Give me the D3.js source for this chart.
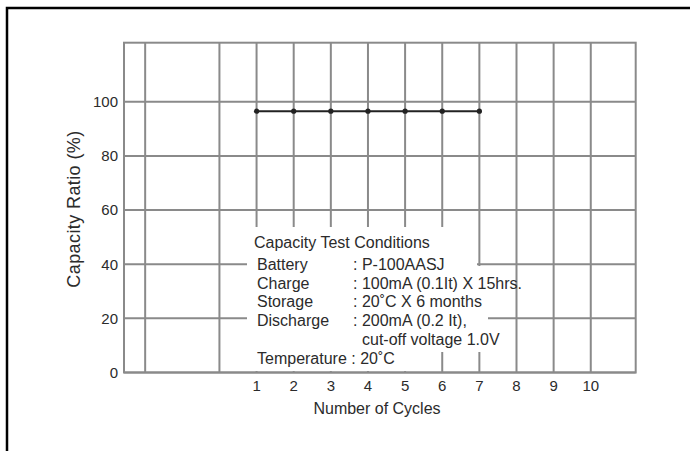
<!DOCTYPE html>
<html>
<head>
<meta charset="utf-8">
<script src="https://cdn.jsdelivr.net/npm/d3@7"></script>
<style>
  body { margin: 0; background: #fff; }
  text { font-family: "Liberation Sans", Arial, sans-serif; fill: #2b2b2b; }
</style>
</head>
<body>
<svg></svg>
<script>
// size of the page
var width = 690;
var height = 451;

// data
const cycles = [1, 2, 3, 4, 5, 6, 7];
const capacity = [96.5, 96.5, 96.5, 96.5, 96.5, 96.5, 96.5];

// grid / tick values
const xGrid = [-2, 0, 1, 2, 3, 4, 5, 6, 7, 8, 9, 10];
const xTickLabels = [1, 2, 3, 4, 5, 6, 7, 8, 9, 10];
const yTicks = [0, 20, 40, 60, 80, 100];

// conditions box text
const condTitle = "Capacity Test Conditions";
const condLabels = ["Battery", "Charge", "Storage", "Discharge"];
const condValues = [": P-100AASJ", ": 100mA (0.1It) X 15hrs.", ": 20˚C  X 6 months", ": 200mA (0.2 It),"];
const condExtra = "cut-off voltage 1.0V";
const condTemp = "Temperature : 20˚C";

var svg = d3.select("svg").attr("width", width).attr("height", height);

// outer frame (only top and left edges show)
svg.append("rect")
    .attr("x", 7).attr("y", 8)
    .attr("width", 720).attr("height", 500)
    .attr("fill", "none")
    .attr("stroke", "#000")
    .attr("stroke-width", 2.5);

// scales
let xScale = d3.scaleLinear().domain([-2.57, 11.21]).range([124, 635.7]);
let yScale = d3.scaleLinear().domain([0, 121.8]).range([372.5, 42.7]);

const gridColor = "#8a8a8a";

//Vertical grid lines
svg.append("g").selectAll("line").data(xGrid).enter()
    .append("line")
    .attr("x1", d => xScale(d)).attr("x2", d => xScale(d))
    .attr("y1", yScale.range()[1]).attr("y2", yScale.range()[0])
    .attr("stroke", gridColor).attr("stroke-width", 2);

//Horizontal grid lines
svg.append("g").selectAll("line").data(yTicks).enter()
    .append("line")
    .attr("x1", xScale.range()[0]).attr("x2", xScale.range()[1])
    .attr("y1", d => yScale(d)).attr("y2", d => yScale(d))
    .attr("stroke", gridColor).attr("stroke-width", 2);

// plot border
svg.append("rect")
    .attr("x", xScale.range()[0]).attr("y", yScale.range()[1])
    .attr("width", xScale.range()[1] - xScale.range()[0])
    .attr("height", yScale.range()[0] - yScale.range()[1])
    .attr("fill", "none")
    .attr("stroke", gridColor).attr("stroke-width", 2);

// white areas behind the conditions text
const boxes = [
    {x: 247, y: 227, w: 230, h: 40},
    {x: 247, y: 266, w: 241, h: 86},
    {x: 247, y: 352, w: 185, h: 19}
];
svg.append("g").selectAll("rect").data(boxes).enter()
    .append("rect")
    .attr("x", d => d.x).attr("y", d => d.y)
    .attr("width", d => d.w).attr("height", d => d.h)
    .attr("fill", "#fff");

// Y tick labels
svg.append("g").selectAll("text").data(yTicks).enter()
    .append("text")
    .attr("x", 118)
    .attr("y", d => yScale(d))
    .attr("dy", "0.36em")
    .attr("text-anchor", "end")
    .style("font-size", "15px")
    .text(d => d);

// X tick labels
svg.append("g").selectAll("text").data(xTickLabels).enter()
    .append("text")
    .attr("x", d => xScale(d))
    .attr("y", 391)
    .attr("text-anchor", "middle")
    .style("font-size", "15px")
    .text(d => d);

// axis titles
svg.append("text")
    .style("font-size", "18px")
    .style("letter-spacing", "0.4px")
    .attr("text-anchor", "middle")
    .attr("transform", "translate(80,209) rotate(-90)")
    .text("Capacity Ratio (%)");

svg.append("text")
    .style("font-size", "16px")
    .attr("text-anchor", "middle")
    .attr("x", 377).attr("y", 414)
    .text("Number of Cycles");

// data line and points
let line = d3.line()
    .x((d, i) => xScale(cycles[i]))
    .y(d => yScale(d));

svg.append("path")
    .datum(capacity)
    .attr("d", line)
    .attr("fill", "none")
    .attr("stroke", "#222")
    .attr("stroke-width", 2);

svg.append("g").selectAll("circle").data(capacity).enter()
    .append("circle")
    .attr("cx", (d, i) => xScale(cycles[i]))
    .attr("cy", d => yScale(d))
    .attr("r", 2.6)
    .attr("fill", "#222");

// conditions text
const condFont = "16px";
svg.append("text")
    .style("font-size", condFont)
    .attr("x", 254).attr("y", 248)
    .text(condTitle);

svg.append("g").selectAll("text").data(condLabels).enter()
    .append("text")
    .style("font-size", condFont)
    .attr("x", 257)
    .attr("y", (d, i) => 270 + i * 18.7)
    .text(d => d);

svg.append("g").selectAll("text").data(condValues).enter()
    .append("text")
    .style("font-size", condFont)
    .attr("x", 353)
    .attr("y", (d, i) => 270 + i * 18.7)
    .text(d => d);

svg.append("text")
    .style("font-size", condFont)
    .attr("x", 362).attr("y", 345)
    .text(condExtra);

svg.append("text")
    .style("font-size", condFont)
    .attr("x", 257).attr("y", 363.5)
    .text(condTemp);
</script>
</body>
</html>
